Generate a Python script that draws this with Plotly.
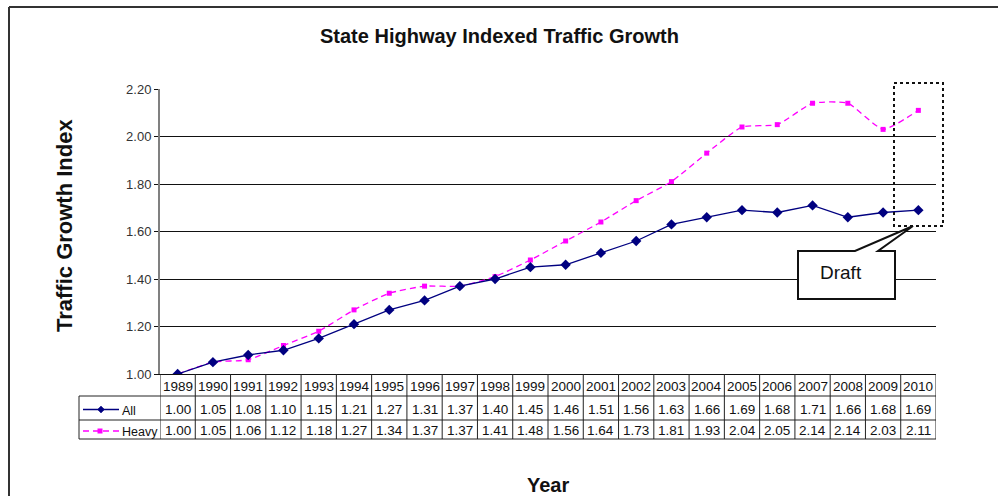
import plotly.graph_objects as go

# ---------------- data ----------------
years = list(range(1989, 2011))
all_index = [1.00, 1.05, 1.08, 1.10, 1.15, 1.21, 1.27, 1.31, 1.37, 1.40, 1.45,
             1.46, 1.51, 1.56, 1.63, 1.66, 1.69, 1.68, 1.71, 1.66, 1.68, 1.69]
heavy_index = [1.00, 1.05, 1.06, 1.12, 1.18, 1.27, 1.34, 1.37, 1.37, 1.41, 1.48,
               1.56, 1.64, 1.73, 1.81, 1.93, 2.04, 2.05, 2.14, 2.14, 2.03, 2.11]
y_tick_vals = [1.00, 1.20, 1.40, 1.60, 1.80, 2.00, 2.20]
y_tick_text = ["1.00", "1.20", "1.40", "1.60", "1.80", "2.00", "2.20"]
series_names = ["All", "Heavy"]
title_text = "State Highway Indexed Traffic Growth"
y_title = "Traffic Growth Index"
x_title = "Year"
note_text = "Draft"

# ---------------- layout helpers ----------------
W, H = 998, 496
def px(x):
    return x / W
def py(y):
    return 1 - y / H

PLOT_L, PLOT_R, PLOT_T, PLOT_B = 160, 936, 89, 374
ROW1_B, ROW2_B, ROW3_B = 396, 420, 439
LEG_L = 79

FONT = "Liberation Sans, Arial, sans-serif"
NAVY = "#000080"
MAG = "#FF00FF"

fig = go.Figure()

fig.add_trace(go.Scatter(
    x=years, y=heavy_index, name=series_names[1], mode="lines+markers",
    line=dict(color=MAG, width=1.3, dash="6px,4px", shape="spline", smoothing=0.5),
    marker=dict(symbol="square", size=5, color=MAG),
))
fig.add_trace(go.Scatter(
    x=years, y=all_index, name=series_names[0], mode="lines+markers",
    line=dict(color=NAVY, width=1.3),
    marker=dict(symbol="diamond", size=8, color=NAVY),
))

shapes = []
annotations = []

def note(x, y, text, font, xref="paper", xanchor="center", **kw):
    annotations.append(dict(x=x, y=y, xref=xref, yref="paper", text=text, showarrow=False,
                            xanchor=xanchor, yanchor="middle", font=font, **kw))

# outer chart border (left and top visible)
shapes.append(dict(type="line", xref="paper", yref="paper", x0=px(9), x1=px(9), y0=py(7), y1=py(496),
                   line=dict(color="#333333", width=2)))
shapes.append(dict(type="line", xref="paper", yref="paper", x0=px(9), x1=px(998), y0=py(7), y1=py(7),
                   line=dict(color="#333333", width=2)))

# data table grid
tbl_line = dict(color="#222222", width=1)
for i, yr in enumerate(years):
    shapes.append(dict(type="line", xref="x", yref="paper", x0=yr - 0.5, x1=yr - 0.5,
                       y0=py(PLOT_B), y1=py(ROW3_B), line=tbl_line))
shapes.append(dict(type="line", xref="x", yref="paper", x0=years[-1] + 0.5, x1=years[-1] + 0.5,
                   y0=py(PLOT_B), y1=py(ROW3_B), line=tbl_line))
for yy in (ROW1_B, ROW2_B, ROW3_B):
    shapes.append(dict(type="line", xref="paper", yref="paper", x0=px(LEG_L), x1=px(PLOT_R),
                       y0=py(yy), y1=py(yy), line=tbl_line))
shapes.append(dict(type="line", xref="paper", yref="paper", x0=px(LEG_L), x1=px(LEG_L),
                   y0=py(ROW1_B), y1=py(ROW3_B), line=tbl_line))

# table text
tfont = dict(family=FONT, size=13.5, color="#111111")
lfont = dict(family=FONT, size=12.5, color="#111111")
for yr, a, h in zip(years, all_index, heavy_index):
    note(yr, py(386), str(yr), tfont, xref="x")
    note(yr, py(409.5), f"{a:.2f}", tfont, xref="x")
    note(yr, py(430.5), f"{h:.2f}", tfont, xref="x")

# legend keys in table
ya, yh = 409.5, 431
shapes.append(dict(type="line", xref="paper", yref="paper", x0=px(83), x1=px(119), y0=py(ya), y1=py(ya),
                   line=dict(color=NAVY, width=1.3)))
d = 3.5
shapes.append(dict(type="path", xref="paper", yref="paper",
                   path=f"M {px(101)},{py(ya - d)} L {px(101 + d)},{py(ya)} L {px(101)},{py(ya + d)} L {px(101 - d)},{py(ya)} Z",
                   fillcolor=NAVY, line=dict(color=NAVY, width=0.5)))
shapes.append(dict(type="line", xref="paper", yref="paper", x0=px(83), x1=px(119), y0=py(yh), y1=py(yh),
                   line=dict(color=MAG, width=1.3, dash="6px,4px")))
s = 2.5
shapes.append(dict(type="rect", xref="paper", yref="paper", x0=px(100 - s), x1=px(100 + s),
                   y0=py(yh - s), y1=py(yh + s), fillcolor=MAG, line=dict(color=MAG, width=0)))
note(px(120), py(411), series_names[0], lfont, xanchor="left")
note(px(120), py(431.5), series_names[1], lfont, xanchor="left")

# Draft highlight box and callout
shapes.append(dict(type="rect", xref="paper", yref="paper", x0=px(894), x1=px(943), y0=py(83), y1=py(226),
                   line=dict(color="#111111", width=2, dash="dot")))
pts = [(798, 251), (855, 251), (913, 226), (878, 251), (895, 251), (895, 299), (798, 299)]
path = "M " + " L ".join(f"{px(a)},{py(b)}" for a, b in pts) + " Z"
shapes.append(dict(type="path", xref="paper", yref="paper", path=path, fillcolor="white",
                   line=dict(color="#111111", width=2)))
note(px(841), py(272.5), note_text, dict(family=FONT, size=19, color="#111111"))

# titles
note(px(500), py(36), f"<b>{title_text}</b>", dict(family=FONT, size=20, color="#111111"))
note(px(65), py(226), f"<b>{y_title}</b>", dict(family=FONT, size=22, color="#111111"), textangle=-90)
note(px(548), py(485), f"<b>{x_title}</b>", dict(family=FONT, size=20, color="#111111"))

fig.update_layout(
    width=W, height=H,
    margin=dict(l=0, r=0, t=0, b=0, pad=0, autoexpand=False),
    paper_bgcolor="white", plot_bgcolor="white",
    showlegend=False,
    xaxis=dict(domain=[px(PLOT_L), px(PLOT_R)], range=[years[0] - 0.5, years[-1] + 0.5],
               showgrid=False, zeroline=False, showticklabels=False, ticks="", automargin=False,
               showline=True, linecolor="#111111", linewidth=1),
    yaxis=dict(domain=[py(PLOT_B), py(PLOT_T)], range=[1.0, 2.2], automargin=False,
               tickvals=y_tick_vals, ticktext=y_tick_text, ticks="outside", ticklen=4,
               tickcolor="#111111", tickfont=dict(family=FONT, size=13, color="#333333"),
               showgrid=True, gridcolor="#111111", gridwidth=1, zeroline=False,
               showline=True, linecolor="#808080", linewidth=2, ticklabelstandoff=0),
    shapes=shapes, annotations=annotations,
)

fig.write_html(
    "out.html",
    config={"displayModeBar": False},
    post_script=(
        "var gd=document.getElementById('{plot_id}');"
        "gd.style.position='fixed';gd.style.left='0px';gd.style.top='0px';"
        "document.body.style.margin='0';document.body.style.overflow='hidden';"
        "document.documentElement.style.overflow='hidden';"
    ),
)
